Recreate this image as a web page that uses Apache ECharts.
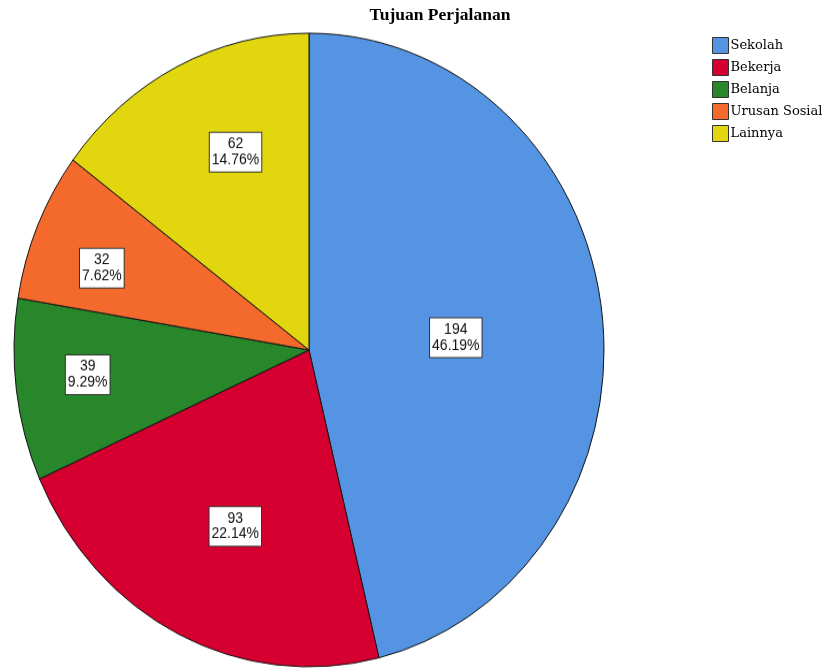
<!DOCTYPE html>
<html>
<head>
<meta charset="utf-8">
<script src="https://cdn.jsdelivr.net/npm/echarts@6/dist/echarts.min.js"></script>
<style>
html,body{margin:0;padding:0;background:#fff;}
#pie{position:absolute;left:0;top:0;width:826px;height:668px;transform:scaleY(1.074);transform-origin:0 350px;}
#over{position:absolute;left:0;top:0;width:826px;height:668px;}
</style>
</head>
<body>
<div id="pie"></div>
<div id="over"></div>
<script>
const titleText = 'Tujuan Perjalanan';
const categories = ['Sekolah', 'Bekerja', 'Belanja', 'Urusan Sosial', 'Lainnya'];
const values = [194, 93, 39, 32, 62];
const colors = ['#5494E3', '#D5002F', '#28872B', '#F36A2C', '#E2D70F'];
// label placement (style only): distance from centre as a fraction of the radius,
// and a small angular nudge in degrees
const labelRadiusFactor = [0.489, 0.600, 0.744, 0.738, 0.662];
const labelAngleNudge = [2.4, -2.0, 1.4, -3.0, 4.9];

const R = 295;
const total = values.reduce((a, b) => a + b, 0);
const data = categories.map((n, i) => ({ name: n, value: values[i], itemStyle: { color: colors[i] } }));

function midAngle(i) {
  let before = 0;
  for (let k = 0; k < i; k++) before += values[k];
  return (before + values[i] / 2) / total * Math.PI * 2;
}

const pieChart = echarts.init(document.getElementById('pie'));
pieChart.setOption({
  animation: false,
  series: [{
    type: 'pie',
    center: [309, 350],
    radius: [0, R],
    startAngle: 90,
    clockwise: true,
    data: data,
    itemStyle: { borderColor: '#111', borderWidth: 1 },
    emphasis: { disabled: true },
    label: {
      show: true,
      position: 'inside',
      formatter: '{c}\n{d}%',
      fontFamily: 'Liberation Sans, Arial, sans-serif',
      fontSize: 14,
      lineHeight: 14.5,
      color: '#111',
      backgroundColor: '#fff',
      borderColor: '#333',
      borderWidth: 1,
      padding: [4, 2, 3, 2]
    },
    labelLayout: function (params) {
      const i = params.dataIndex;
      const a = midAngle(i);
      const b = a + labelAngleNudge[i] * Math.PI / 180;
      const f = labelRadiusFactor[i] * R;
      const h = 0.5 * R;
      return {
        dx: f * Math.sin(b) - h * Math.sin(a),
        dy: -f * Math.cos(b) + h * Math.cos(a)
      };
    }
  }]
});

const over = echarts.init(document.getElementById('over'));
over.setOption({
  animation: false,
  title: {
    text: titleText,
    left: 440,
    top: 6,
    padding: 0,
    textAlign: 'center',
    textStyle: { fontFamily: 'Liberation Serif, serif', fontWeight: 'bold', fontSize: 17.5, color: '#000' }
  },
  legend: {
    orient: 'vertical',
    left: 712,
    top: 37,
    padding: 0,
    itemWidth: 16,
    itemHeight: 16,
    itemGap: 5,
    icon: 'rect',
    data: categories,
    itemStyle: { borderColor: '#333', borderWidth: 1 },
    textStyle: { fontFamily: 'DejaVu Serif, serif', fontSize: 13, color: '#000', padding: [0, 0, 0, -3] }
  },
  series: [{
    type: 'pie',
    radius: [0, 0],
    silent: true,
    label: { show: false },
    labelLine: { show: false },
    data: data
  }]
});
</script>
</body>
</html>
